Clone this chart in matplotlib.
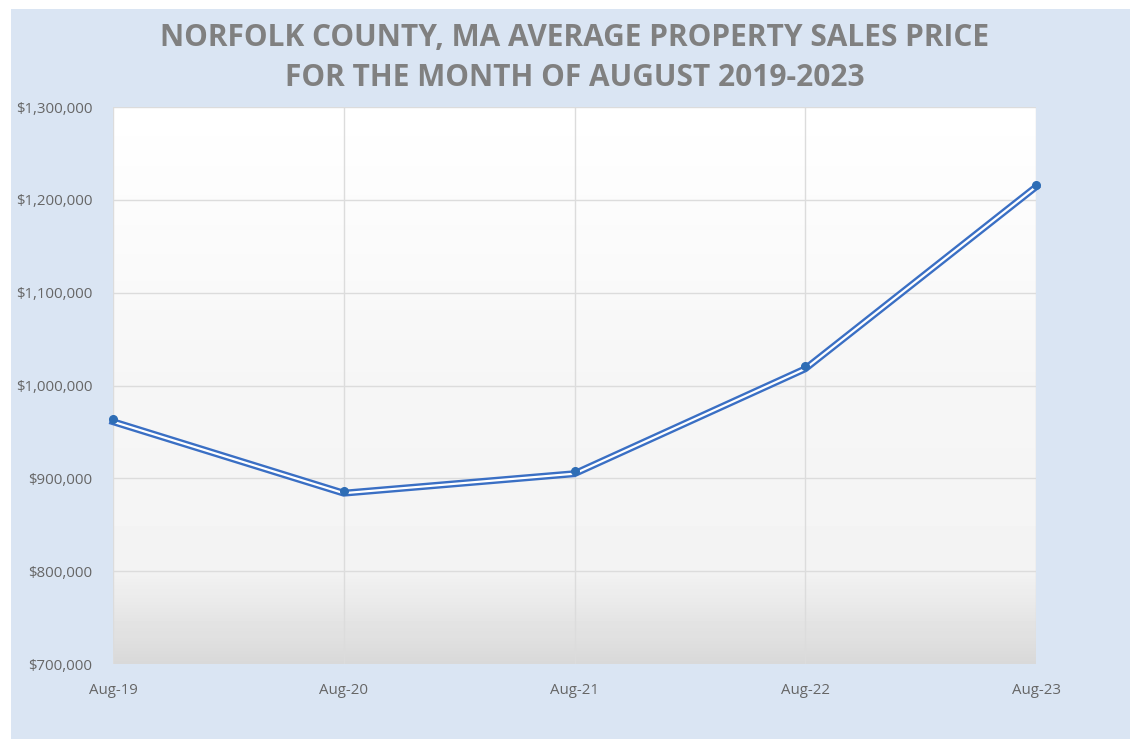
import matplotlib.pyplot as plt
from matplotlib.patches import Rectangle
import numpy as np

# data
months = ["Aug-19", "Aug-20", "Aug-21", "Aug-22", "Aug-23"]
avg_price = [961000, 884000, 905000, 1018000, 1214000]
y_ticks = [700000, 800000, 900000, 1000000, 1100000, 1200000, 1300000]

title = "NORFOLK COUNTY, MA AVERAGE PROPERTY SALES PRICE\nFOR THE MONTH OF AUGUST 2019-2023"

W, H = 1130, 739
fig = plt.figure(figsize=(W / 100, H / 100), dpi=100)
fig.patch.set_facecolor("white")

# light blue chart area
fig.patches.append(Rectangle((11 / W, 0), 1 - 11 / W, 1 - 9 / H,
                             transform=fig.transFigure, facecolor="#dae5f3",
                             edgecolor="none", zorder=-5))

ax = fig.add_axes([113 / W, 1 - 664 / H, (1036 - 113) / W, (664 - 107) / H])
ax.set_zorder(2)
x = np.arange(len(months))
ax.set_xlim(0, len(months) - 1)
ax.set_ylim(y_ticks[0], y_ticks[-1])

# plot area gradient, white at top to grey at bottom
grad = np.concatenate([np.linspace(1.0, 0.965, 80),
                       np.linspace(0.965, 0.955, 60),
                       np.linspace(0.955, 0.85, 30)])[:, None]
ax.imshow(grad, extent=[0, len(months) - 1, y_ticks[0], y_ticks[-1]],
          aspect="auto", cmap="gray", vmin=0, vmax=1, zorder=0, origin="upper")

ax.set_yticks(y_ticks)
ax.set_xticks(x)
ax.set_xticklabels(months)
ax.set_yticklabels([f"${v:,.0f}" for v in y_ticks])
ax.grid(True, color="#dcdcdc", linewidth=1, zorder=1)
for s in ax.spines.values():
    s.set_visible(False)
ax.tick_params(length=0, labelsize=10.8)
ax.tick_params(axis="y", pad=15)
ax.tick_params(axis="x", pad=14)
for lab in ax.get_xticklabels() + ax.get_yticklabels():
    lab.set_family("Open Sans")
    lab.set_color("#666666")

# double line: blue outline with white core
ax.plot(x, avg_price, color="#3a6fc4", linewidth=5, solid_joinstyle="miter",
        zorder=3, clip_on=False)
ax.plot(x, avg_price, color="white", linewidth=1.6, zorder=4, clip_on=False)
ax.plot(x, [v + 2500 for v in avg_price], "o", color="#2e6db5",
        markersize=5.5, zorder=5, clip_on=False)

fig.text(575 / W, 1 - 58 / H, title, ha="center", va="center",
         fontsize=21.5, fontweight="bold", color="#808080",
         family="Open Sans", linespacing=1.42)

fig.savefig("out.png", dpi=100)
